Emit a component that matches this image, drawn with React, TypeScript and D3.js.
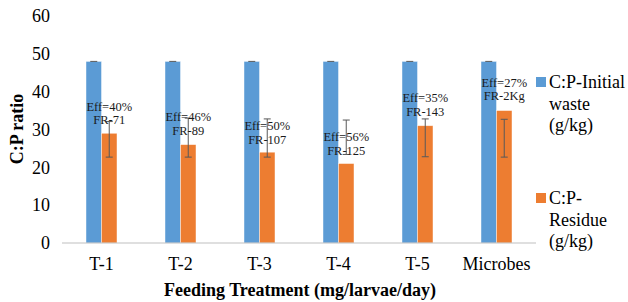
import * as d3 from "d3";
import React, { useRef, useEffect } from "react";

const categories = ["T-1", "T-2", "T-3", "T-4", "T-5", "Microbes"];
const initialWaste = [48, 48, 48, 48, 48, 48];
const residue = [29, 26, 24, 21, 31, 35];
const residueErrLow = [22.7, 22.7, 22.7, 23.4, 22.8, 22.7];
const residueErrHigh = [32.1, 33, 32.8, 32.5, 32.8, 32.7];
const effLabels = ["Eff=40%", "Eff=46%", "Eff=50%", "Eff=56%", "Eff=35%", "Eff=27%"];
const frLabels = ["FR-71", "FR-89", "FR-107", "FR-125", "FR-143", "FR-2Kg"];
const labelAt = [36.1, 33.4, 31, 28.1, 38.3, 42.5]; // where the Eff/FR label sits (y value)
const yTicks = [0, 10, 20, 30, 40, 50, 60];

const W = 628;
const H = 302;
let margin = { top: 16, right: 92, bottom: 59, left: 62 };
const font = "Liberation Serif, Times New Roman, DejaVu Serif, serif";

function ResidueChart() {
  const ref = useRef<SVGSVGElement>(null);

  useEffect(() => {
    const svg = d3.select(ref.current);
    svg.selectAll("*").remove();
    svg.attr("font-family", font);

    const width = W - margin.left - margin.right;
    const height = H - margin.top - margin.bottom;
    const g = svg
      .append("g")
      .attr("transform", "translate(" + margin.left + "," + margin.top + ")");

    const x = d3.scaleBand().domain(categories).range([0, width]).padding(0);
    const y = d3.scaleLinear().domain([0, 60]).range([height, 0]);
    const barW = x.bandwidth() * 0.196;

    // y tick labels (no axis line in the original)
    g.selectAll(".ytick")
      .data(yTicks)
      .enter()
      .append("text")
      .attr("x", -12)
      .attr("y", (d) => y(d))
      .attr("dy", "0.35em")
      .attr("text-anchor", "end")
      .attr("font-size", 18)
      .attr("fill", "#000")
      .text((d) => d);

    // blue bars
    g.selectAll(".blue")
      .data(initialWaste)
      .enter()
      .append("rect")
      .attr("x", (d, i) => x(categories[i])! + x.bandwidth() / 2 - barW)
      .attr("y", (d) => y(d))
      .attr("width", barW)
      .attr("height", (d) => height - y(d))
      .attr("fill", "#5b9bd5")
      .attr("stroke", "#fff")
      .attr("stroke-opacity", 0.6)
      .attr("stroke-width", 0.7);

    // orange bars
    g.selectAll(".orange")
      .data(residue)
      .enter()
      .append("rect")
      .attr("x", (d, i) => x(categories[i])! + x.bandwidth() / 2)
      .attr("y", (d) => y(d))
      .attr("width", barW)
      .attr("height", (d) => height - y(d))
      .attr("fill", "#ed7d31")
      .attr("stroke", "#fff")
      .attr("stroke-opacity", 0.6)
      .attr("stroke-width", 0.7);

    // x axis line
    g.append("line")
      .attr("x1", 0)
      .attr("x2", width)
      .attr("y1", height)
      .attr("y2", height)
      .attr("stroke", "#bfbfbf")
      .attr("stroke-width", 1.2);

    // tiny caps on top of blue bars
    g.selectAll(".bcap")
      .data(initialWaste)
      .enter()
      .append("line")
      .attr("x1", (d, i) => x(categories[i])! + x.bandwidth() / 2 - barW / 2 - 3.5)
      .attr("x2", (d, i) => x(categories[i])! + x.bandwidth() / 2 - barW / 2 + 3.5)
      .attr("y1", (d) => y(d))
      .attr("y2", (d) => y(d))
      .attr("stroke", "#595959")
      .attr("stroke-width", 1);

    // error bars on orange
    const errs = g
      .selectAll(".err")
      .data(residue)
      .enter()
      .append("g")
      .attr(
        "transform",
        (d, i) => "translate(" + (x(categories[i])! + x.bandwidth() / 2 + barW / 2) + ",0)"
      );
    errs
      .append("line")
      .attr("y1", (d, i) => y(residueErrHigh[i]))
      .attr("y2", (d, i) => y(residueErrLow[i]))
      .attr("stroke", "#595959")
      .attr("stroke-width", 1);
    errs
      .append("line")
      .attr("x1", -3.5)
      .attr("x2", 3.5)
      .attr("y1", (d, i) => y(residueErrHigh[i]))
      .attr("y2", (d, i) => y(residueErrHigh[i]))
      .attr("stroke", "#595959")
      .attr("stroke-width", 1);
    errs
      .append("line")
      .attr("x1", -3.5)
      .attr("x2", 3.5)
      .attr("y1", (d, i) => y(residueErrLow[i]))
      .attr("y2", (d, i) => y(residueErrLow[i]))
      .attr("stroke", "#595959")
      .attr("stroke-width", 1);

    // Eff / FR labels
    const labs = g
      .selectAll(".lab")
      .data(labelAt)
      .enter()
      .append("text")
      .attr("text-anchor", "middle")
      .attr("font-size", 12.5)
      .attr("fill", "#1a1a1a");
    labs
      .append("tspan")
      .attr("x", (d, i) => x(categories[i])! + x.bandwidth() / 2 + barW / 2)
      .attr("y", (d) => y(d))
      .attr("dy", "0.35em")
      .text((d, i) => effLabels[i]);
    labs
      .append("tspan")
      .attr("x", (d, i) => x(categories[i])! + x.bandwidth() / 2 + barW / 2)
      .attr("y", (d) => y(d) + 13.5)
      .attr("dy", "0.35em")
      .text((d, i) => frLabels[i]);

    // category labels
    g.selectAll(".xlab")
      .data(categories)
      .enter()
      .append("text")
      .attr("x", (d) => x(d)! + x.bandwidth() / 2)
      .attr("y", height + 21)
      .attr("dy", "0.35em")
      .attr("text-anchor", "middle")
      .attr("font-size", 18)
      .text((d) => d);

    // axis titles
    g.append("text")
      .attr("x", width / 2 + 1)
      .attr("y", height + 47)
      .attr("dy", "0.35em")
      .attr("text-anchor", "middle")
      .attr("font-size", 18)
      .attr("font-weight", "bold")
      .text("Feeding Treatment (mg/larvae/day)");

    g.append("text")
      .attr("transform", "translate(" + (17 - margin.left) + "," + (129 - margin.top) + ") rotate(-90)")
      .attr("dy", "0.35em")
      .attr("text-anchor", "middle")
      .attr("font-size", 18)
      .attr("font-weight", "bold")
      .text("C:P ratio");

    // legend
    const legend = [
      { color: "#5b9bd5", lines: ["C:P-Initial", "waste", "(g/kg)"], top: 77 },
      { color: "#ed7d31", lines: ["C:P-", "Residue", "(g/kg)"], top: 193 },
    ];
    const lg = svg
      .selectAll(".leg")
      .data(legend)
      .enter()
      .append("g")
      .attr("transform", (d) => "translate(536," + d.top + ")");
    lg.append("rect")
      .attr("width", 10)
      .attr("height", 10)
      .attr("fill", (d) => d.color);
    lg.each(function (d) {
      d3.select(this)
        .selectAll("text")
        .data(d.lines)
        .enter()
        .append("text")
        .attr("x", 13)
        .attr("y", (t, j) => 5 + j * 21.5)
        .attr("dy", "0.35em")
        .attr("font-size", 18)
        .text((t) => t);
    });
  }, []);

  return (
    <svg
      ref={ref}
      width={W}
      height={H}
      style={{ position: "absolute", left: 0, top: 0, background: "#fff" }}
    ></svg>
  );
}

export default function App() {
  return <ResidueChart />;
}
